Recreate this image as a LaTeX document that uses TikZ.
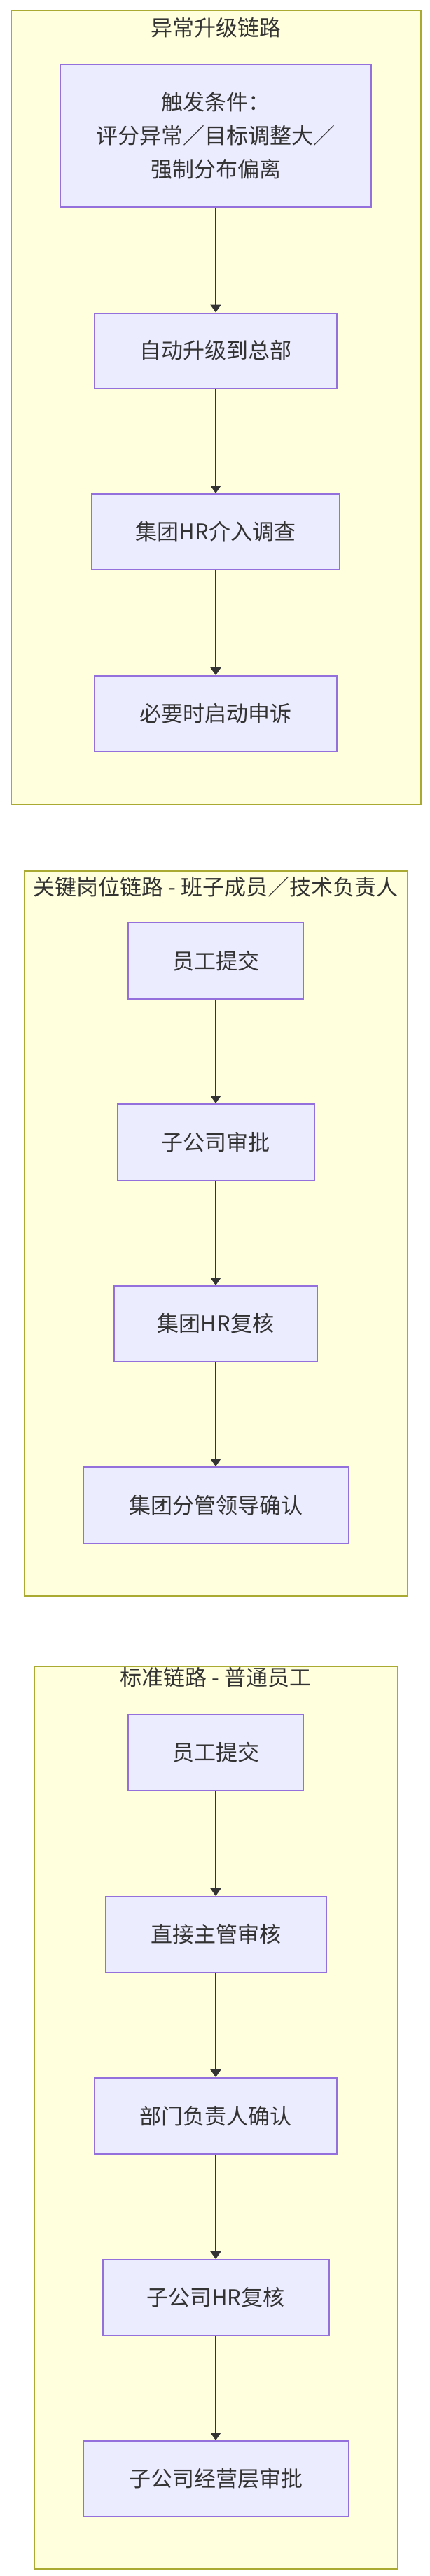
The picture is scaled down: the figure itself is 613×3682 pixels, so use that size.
\documentclass[tikz,border=0pt]{standalone}
\usepackage{fontspec}
\setmainfont{Noto Sans CJK SC}
\usetikzlibrary{arrows.meta}
\definecolor{nfill}{HTML}{ECECFF}
\definecolor{nborder}{HTML}{9370DB}
\definecolor{cfill}{HTML}{FFFFDE}
\definecolor{cborder}{HTML}{AAAA33}
\definecolor{txt}{HTML}{333333}
\tikzset{
  x=1pt,y=1pt,
  box/.style={draw=nborder,fill=nfill,line width=2pt,text=txt,font=\fontsize{31}{48}\selectfont,align=center,inner sep=0pt},
  clus/.style={draw=cborder,fill=cfill,line width=2pt},
  ctitle/.style={text=txt,font=\fontsize{31}{36}\selectfont,inner sep=0pt},
  arr/.style={draw=txt,line width=2pt,-{Triangle[width=15pt,length=11pt]}}
}
\begin{document}
\begin{tikzpicture}
\useasboundingbox (0,0) rectangle (613,-3682);
% cluster 1
\draw[clus] (16,-15) rectangle (601,-1150);
\node[ctitle] (t1) at (308,-40) {异常升级链路};
\node[box,minimum width=444,minimum height=204] (a1) at (308,-194) {触发条件：\\评分异常／目标调整大／\\强制分布偏离};
\node[box,minimum width=346,minimum height=107] (a2) at (308,-501) {自动升级到总部};
\node[box,minimum width=354,minimum height=108] (a3) at (308,-760) {集团HR介入调查};
\node[box,minimum width=346,minimum height=108] (a4) at (308,-1020) {必要时启动申诉};
\draw[arr] (a1) -- (a2);
\draw[arr] (a2) -- (a3);
\draw[arr] (a3) -- (a4);
% cluster 2
\draw[clus] (35,-1245) rectangle (582,-2281);
\node[ctitle] (t2) at (308,-1268) {关键岗位链路 - 班子成员／技术负责人};
\node[box,minimum width=250,minimum height=109] (b1) at (308,-1373.5) {员工提交};
\node[box,minimum width=281,minimum height=109] (b2) at (308,-1632.5) {子公司审批};
\node[box,minimum width=290,minimum height=108] (b3) at (308,-1892) {集团HR复核};
\node[box,minimum width=379,minimum height=109] (b4) at (308,-2151.5) {集团分管领导确认};
\draw[arr] (b1) -- (b2);
\draw[arr] (b2) -- (b3);
\draw[arr] (b3) -- (b4);
% cluster 3
\draw[clus] (49,-2382) rectangle (568,-3672);
\node[ctitle] (t3) at (308,-2398) {标准链路 - 普通员工};
\node[box,minimum width=250,minimum height=108] (c1) at (308,-2505) {员工提交};
\node[box,minimum width=315,minimum height=108] (c2) at (308,-2765) {直接主管审核};
\node[box,minimum width=346,minimum height=109] (c3) at (308,-3024.5) {部门负责人确认};
\node[box,minimum width=323,minimum height=108] (c4) at (308,-3284) {子公司HR复核};
\node[box,minimum width=379,minimum height=108] (c5) at (308,-3543) {子公司经营层审批};
\draw[arr] (c1) -- (c2);
\draw[arr] (c2) -- (c3);
\draw[arr] (c3) -- (c4);
\draw[arr] (c4) -- (c5);
\end{tikzpicture}
\end{document}
